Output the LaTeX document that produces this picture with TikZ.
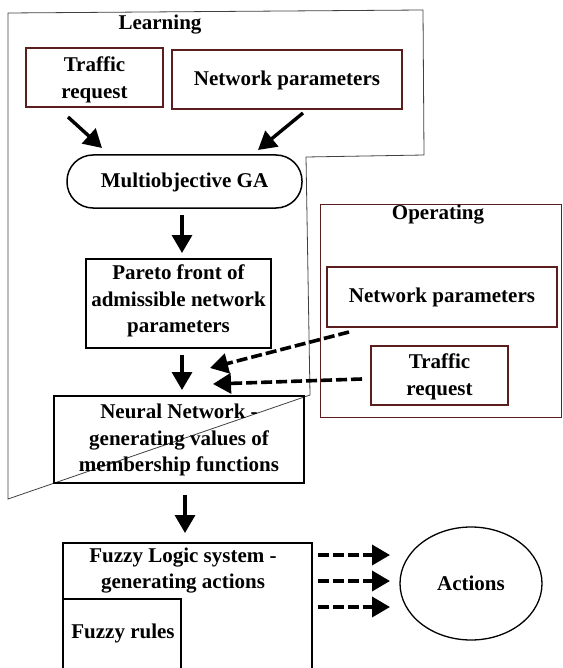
\documentclass[tikz,border=0pt]{standalone}
\usepackage{fontspec}
\setmainfont{Liberation Serif}
\usetikzlibrary{arrows.meta,shapes.geometric}
\definecolor{boxred}{HTML}{5A1E1E}
\begin{document}
\begin{tikzpicture}[x=1pt,y=-1pt,
 txt/.style={font=\fontsize{21}{26.5}\selectfont\bfseries, align=center, inner sep=0pt},
 redbox/.style={draw=boxred, line width=1.8pt},
 blackbox/.style={draw=black, line width=1.8pt},
 arr/.style={line width=3.4pt, -{Triangle[length=18pt,width=20pt]}},
 darr/.style={line width=3.6pt, dash pattern=on 11pt off 4pt, -{Triangle[length=18pt,width=20pt]}},
 region/.style={draw=black!75, line width=0.8pt}]
\useasboundingbox (0,0) rectangle (562,668);
% regions
\draw[region] (8,13) -- (423,10) -- (424,155) -- (306,157) -- (310,395) -- (8,499) -- cycle;
\draw[draw=boxred, line width=0.9pt] (320,204) rectangle (561,417);
\node[txt] (learn) at (160,25) {Learning};
\node[txt] (oper) at (438,215) {Operating};
% learning boxes
\node[redbox, minimum width=137pt, minimum height=59pt] (ltr) at (94.5,77.5) {};
\node[txt] (ltrt) at (94.5,80) {Traffic\\request};
\node[redbox, minimum width=230pt, minimum height=59pt] (lnp) at (287,79.5) {};
\node[txt] (lnpt) at (287,80) {Network parameters};
\node[draw, line width=1.5pt, rounded corners=26pt, minimum width=235pt, minimum height=53pt] (ga) at (184.5,181.5) {};
\node[txt] (gat) at (184.5,182) {Multiobjective GA};
\node[blackbox, minimum width=185pt, minimum height=89pt] (par) at (178.5,303.5) {};
\node[txt] (part) at (178.5,301) {Pareto front of\\admissible network\\parameters};
\node[blackbox, minimum width=250pt, minimum height=87pt] (nn) at (179,439.5) {};
\node[txt] (nnt) at (179,440) {Neural Network -\\generating values of\\membership functions};
% operating boxes
\node[redbox, minimum width=230pt, minimum height=60pt] (onp) at (442,297) {};
\node[txt] (onpt) at (442,297.5) {Network parameters};
\node[redbox, minimum width=137pt, minimum height=59pt] (otr) at (439.5,375.5) {};
\node[txt] (otrt) at (439.5,377) {Traffic\\request};
% fuzzy
\node[blackbox, minimum width=249pt, minimum height=130pt, anchor=north west] (fls) at (62,542) {};
\node[txt] (flst) at (183,570.5) {Fuzzy Logic system -\\generating actions};
\node[blackbox, minimum width=118pt, minimum height=74pt, anchor=north west] (fr) at (62,598) {};
\node[txt] (frt) at (123,633) {Fuzzy rules};
\node[draw, ellipse, line width=1.3pt, minimum width=142pt, minimum height=113pt, font=\fontsize{21}{27}\selectfont\bfseries] (act) at (471,583.5) {Actions};
% arrow end points
\coordinate (a1s) at (68,117);  \coordinate (a1e) at (102,148);
\coordinate (a2s) at (303,113); \coordinate (a2e) at (258,150);
\coordinate (a3s) at (182,215); \coordinate (a3e) at (182,253);
\coordinate (a4s) at (182,355); \coordinate (a4e) at (182,390);
\coordinate (a5s) at (349,332); \coordinate (a5e) at (210,368);
\coordinate (a6s) at (362,379); \coordinate (a6e) at (213,384);
\coordinate (a7s) at (185,495); \coordinate (a7e) at (185,533);
\coordinate (b1s) at (318,555); \coordinate (b1e) at (390,555);
\coordinate (b2s) at (318,581); \coordinate (b2e) at (390,581);
\coordinate (b3s) at (318,607); \coordinate (b3e) at (390,607);
\draw[arr] (a1s) -- (a1e);
\draw[arr] (a2s) -- (a2e);
\draw[arr] (a3s) -- (a3e);
\draw[arr] (a4s) -- (a4e);
\draw[darr] (a5s) -- (a5e);
\draw[darr] (a6s) -- (a6e);
\draw[arr] (a7s) -- (a7e);
\draw[darr] (b1s) -- (b1e);
\draw[darr] (b2s) -- (b2e);
\draw[darr] (b3s) -- (b3e);
\end{tikzpicture}
\end{document}
